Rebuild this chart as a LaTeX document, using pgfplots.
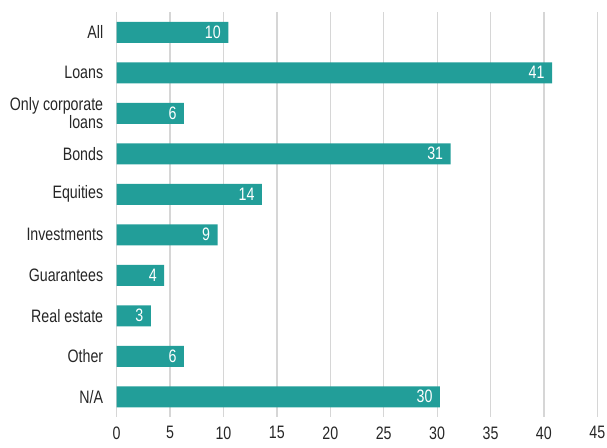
\documentclass[border=0pt]{standalone}
\usepackage{fontspec}
\setmainfont{Liberation Sans}[FakeStretch=0.79]
\usepackage{pgfplots}
\pgfplotsset{compat=1.18}
\usepackage{pgfplotstable}
\definecolor{barteal}{HTML}{229E99}
\definecolor{gridgrey}{HTML}{D6D6D6}
\definecolor{txt}{HTML}{262626}
\pgfplotstableread{
idx val lab
0 10.45 10
1 40.76 41
2 6.3 6
3 31.27 31
4 13.6 14
5 9.45 9
6 4.45 4
7 3.2 3
8 6.3 6
9 30.27 30
}\datatable
\begin{document}
\begin{tikzpicture}
\begin{axis}[
  scale only axis,
  width=480.6pt, height=405pt,
  at={(0,0)}, anchor=south west,
  xbar, bar width=21pt,
  xmin=0, xmax=45,
  ymin=-0.5, ymax=9.5,
  y dir=reverse,
  xtick={0,5,...,45},
  ytick={0,...,9},
  yticklabels={All,Loans,{Only corporate\\loans},Bonds,Equities,Investments,Guarantees,Real estate,Other,N/A},
  yticklabel style={align=right, font=\fontsize{18}{18.5}\selectfont, text=txt, xshift=-10pt},
  xticklabel style={font=\fontsize{18}{18.5}\selectfont, text=txt, yshift=-6pt},
  /pgf/number format/assume math mode=true,
  major tick length=0pt,
  xmajorgrids, grid style={gridgrey, line width=1.2pt},
  axis line style={draw=none},
  nodes near coords,
  point meta=explicit symbolic,
  every node near coord/.append style={anchor=east, xshift=-4pt, text=white, font=\fontsize{18}{18.5}\selectfont},
]
\addplot[fill=barteal, draw=none] table[x=val, y=idx, meta=lab] {\datatable};
\end{axis}
\pgfresetboundingbox
\path (-116.7pt,-30pt) rectangle (490.3pt,417pt);
\end{tikzpicture}
\end{document}
